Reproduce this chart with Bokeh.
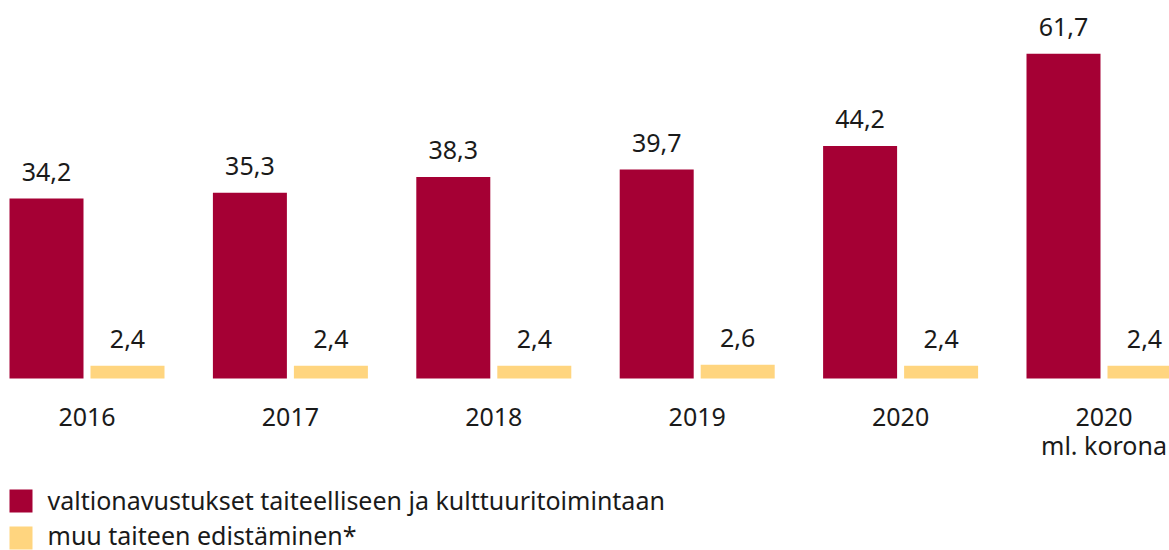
from bokeh.plotting import figure
from bokeh.models import Range1d, ColumnDataSource
from bokeh.core.properties import value
from bokeh.embed import file_html
from bokeh.resources import INLINE

# ---- data ----
years = ["2016", "2017", "2018", "2019", "2020", "2020"]
year_sub = ["", "", "", "", "", "ml. korona"]
grants = [34.2, 35.3, 38.3, 39.7, 44.2, 61.7]
other = [2.4, 2.4, 2.4, 2.6, 2.4, 2.4]
grant_labels = ["34,2", "35,3", "38,3", "39,7", "44,2", "61,7"]
other_labels = ["2,4", "2,4", "2,4", "2,6", "2,4", "2,4"]
legend_labels = ["valtionavustukset taiteelliseen ja kulttuuritoimintaan",
                 "muu taiteen edistäminen*"]

RED = "#A50034"
YELLOW = "#FFD57F"
TXT = "#1a1a1a"
FONT = value("Noto Sans")
FS = "25px"

# ---- layout ----
W, H = 1169, 550
PX_PER_X = 203.4
PX_PER_Y = 5.263
X0_PX = 86.5      # first group centre from frame left
Y0_PX = 378       # baseline from frame top
TSHIFT = 8        # correction for rendered text baseline

x_start = -X0_PX / PX_PER_X
x_end = x_start + W / PX_PER_X
y_end = Y0_PX / PX_PER_Y
y_start = -(H - Y0_PX) / PX_PER_Y

def dx(px):  # frame px -> data x
    return x_start + px / PX_PER_X

def dy(px):  # frame px (from top) -> data y
    return (Y0_PX - px) / PX_PER_Y

p = figure(width=W, height=H, output_backend="svg", toolbar_location=None,
           x_range=Range1d(x_start, x_end), y_range=Range1d(y_start, y_end),
           min_border=0, min_border_left=0, min_border_right=0,
           min_border_top=0, min_border_bottom=0)
p.axis.visible = False
p.grid.visible = False
p.outline_line_color = None
p.background_fill_color = "white"
p.border_fill_color = "white"

idx = list(range(len(years)))
bw = 74 / PX_PER_X
off = 40.5 / PX_PER_X
lab_gap = (19 + TSHIFT) / PX_PER_Y

src = ColumnDataSource(dict(
    xr=[i - off for i in idx], xy=[i + off for i in idx], xc=idx,
    grants=grants, other=other,
    gl=grant_labels, ol=other_labels,
    gly=[g + lab_gap for g in grants],
    oly=[o + lab_gap for o in other],
    years=years, sub=year_sub,
))

p.vbar(x="xr", top="grants", bottom=0, width=bw, source=src,
       fill_color=RED, line_color=None)
p.vbar(x="xy", top="other", bottom=0, width=bw, source=src,
       fill_color=YELLOW, line_color=None)

common = dict(text_font=FONT, text_font_size=FS, text_color=TXT,
              text_align="center", text_baseline="alphabetic")
p.text(x="xr", y="gly", text="gl", source=src, **common)
p.text(x="xy", y="oly", text="ol", source=src, **common)
p.text(x="xc", y=dy(424 - TSHIFT), text="years", source=src, **common)
p.text(x="xc", y=dy(452 - TSHIFT), text="sub", source=src, **common)

# ---- legend (manual) ----
leg_sq_y = [dy(500.5), dy(537.5)]
leg_txt_y = [dy(507 - TSHIFT), dy(542 - TSHIFT)]
p.scatter(x=[dx(20.5)] * 2, y=leg_sq_y, marker="square", size=23,
          fill_color=[RED, YELLOW], line_color=None)
p.text(x=[dx(47)] * 2, y=leg_txt_y, text=legend_labels,
       text_font=FONT, text_font_size=FS, text_color=TXT,
       text_align="left", text_baseline="alphabetic")

open("out.html", "w").write(file_html(p, INLINE))
